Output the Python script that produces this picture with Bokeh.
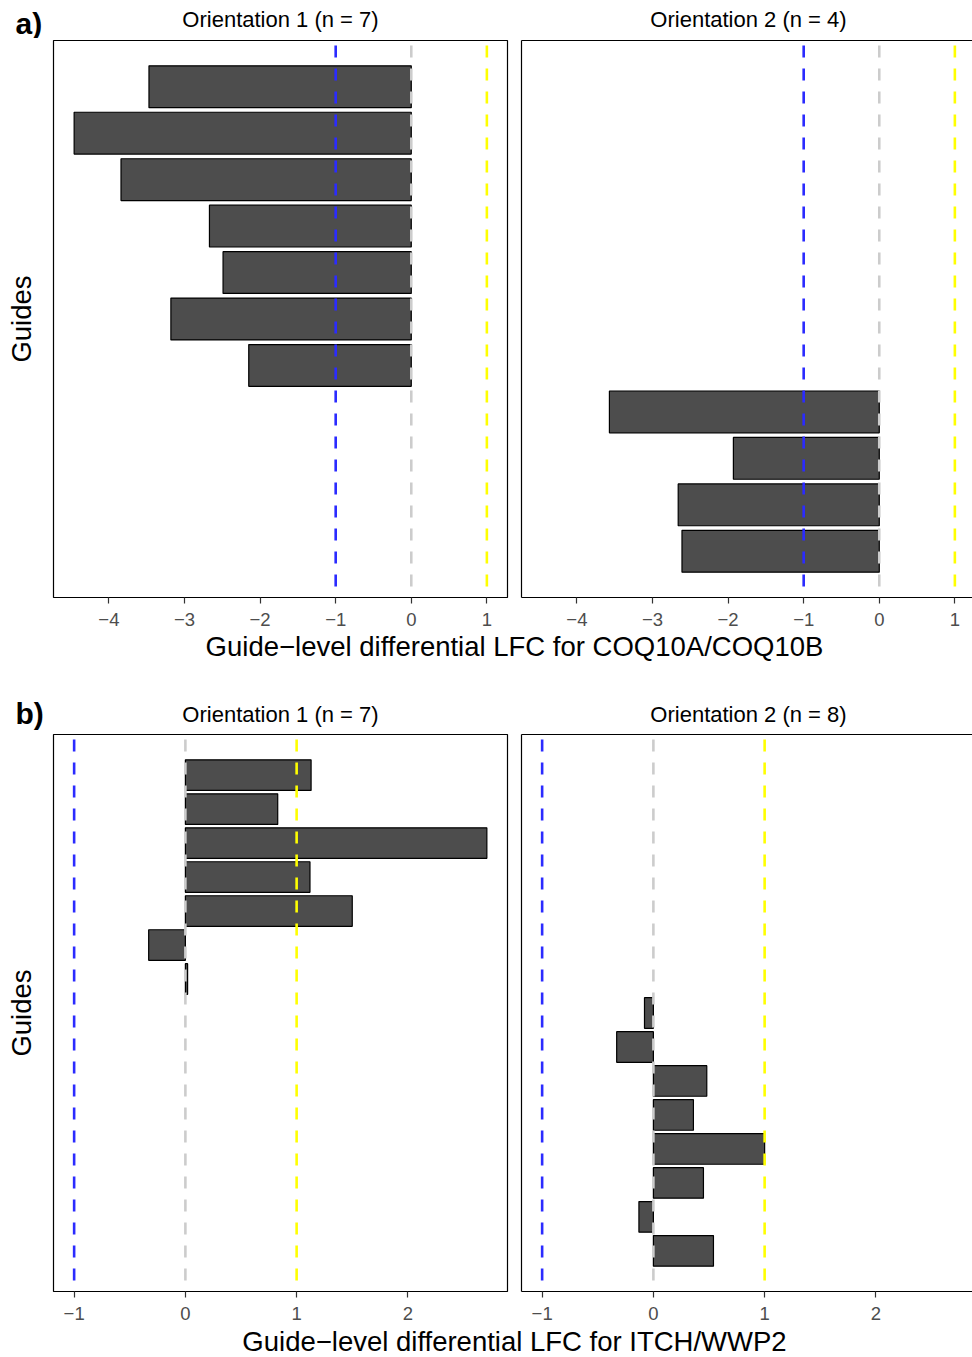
from bokeh.plotting import figure
from bokeh.layouts import column, row
from bokeh.models import Range1d, Span, FixedTicker, LinearAxis, ColumnDataSource
from bokeh.core.properties import value
from bokeh.embed import file_html
from bokeh.resources import INLINE

FONT = "Liberation Sans"

# ---------------- data ----------------
a_o1 = [-3.47, -4.46, -3.84, -2.67, -2.49, -3.18, -2.15]
a_o2 = [-3.57, -1.93, -2.66, -2.61]
b_o1 = [1.13, 0.83, 2.71, 1.12, 1.50, -0.33, 0.02]
b_o2 = [-0.08, -0.33, 0.48, 0.36, 1.00, 0.45, -0.13, 0.54]
a_ticks = [-4, -3, -2, -1, 0, 1]
b_ticks = [-1, 0, 1, 2]
a_strips = ["Orientation 1 (n = 7)", "Orientation 2 (n = 4)"]
b_strips = ["Orientation 1 (n = 7)", "Orientation 2 (n = 8)"]
a_xlabel = "Guide\u2212level differential LFC for COQ10A/COQ10B"
b_xlabel = "Guide\u2212level differential LFC for ITCH/WWP2"
ylabel = "Guides"
panel_tags = ["a)", "b)"]
ref_lines = [-1, 0, 1]
ref_colors = ["#2B2BFF", "#CCCCCC", "#FFFF00"]

# ---------------- layout constants ----------------
TOTAL_W = 972
FRAME_W = 454
FRAME_H = 557
LEFT_B = 53
GAP = 7
TOP_B = 2
BOT_B = 35
LEFT_FIG_W = LEFT_B + FRAME_W + GAP
RIGHT_FIG_W = TOTAL_W - LEFT_FIG_W
RIGHT_FRAME_W = RIGHT_FIG_W - GAP
BAR_FILL = "#4D4D4D"

STRIP_SIZE = 22
TITLE_SIZE = 27.5
TAG_SIZE = 30


def minus(v):
    return str(v).replace("-", "\u2212")


def base_y(baseline, size):
    # bokeh draws alphabetic text a bit lower than y; compensate
    return baseline - 0.35 * size


def x_limits(values):
    lo = min(values + ref_lines)
    hi = max(values + ref_lines)
    pad = 0.05 * (hi - lo)
    return lo - pad, hi + pad


def style_xaxis(ax, ticks, line):
    ax.ticker = FixedTicker(ticks=ticks)
    ax.major_label_overrides = {t: minus(t) for t in ticks}
    ax.minor_tick_line_color = None
    ax.major_tick_out = 6
    ax.major_tick_in = 0
    ax.major_tick_line_color = "#333333"
    ax.major_tick_line_width = 1.2
    ax.major_label_text_font = FONT
    ax.major_label_text_font_size = "18.5px"
    ax.major_label_text_color = "#4D4D4D"
    ax.major_label_standoff = 9
    ax.axis_line_color = "black" if line else None
    ax.axis_line_width = 1.2


def bare_axis(ax):
    ax.ticker = FixedTicker(ticks=[])
    ax.major_tick_out = 0
    ax.major_tick_in = 0
    ax.minor_tick_out = 0
    ax.minor_tick_in = 0
    ax.major_label_standoff = 0
    ax.major_tick_line_color = None
    ax.minor_tick_line_color = None


def facet(vals, positions, n_total, xr, is_left, ticks):
    ylo, yhi = 1 - 0.45, n_total + 0.45
    pad = 0.05 * (yhi - ylo)
    if is_left:
        width = LEFT_FIG_W
        x_range = Range1d(xr[0], xr[1])
        mbl, mbr = LEFT_B, GAP
    else:
        width = RIGHT_FIG_W
        x_range = Range1d(xr[0], xr[0] + (xr[1] - xr[0]) * RIGHT_FRAME_W / FRAME_W)
        mbl, mbr = GAP, 0
    p = figure(width=width, height=TOP_B + FRAME_H + BOT_B,
               x_range=x_range, y_range=Range1d(yhi + pad, ylo - pad),
               min_border_left=mbl, min_border_right=mbr,
               min_border_top=TOP_B, min_border_bottom=BOT_B,
               toolbar_location=None, output_backend="svg", title=None)
    p.grid.visible = False
    src = ColumnDataSource(dict(y=positions, v=vals))
    p.hbar(y="y", height=0.9, left=0, right="v", source=src,
           fill_color=BAR_FILL, line_color="black", line_width=1.2)
    for loc, col in zip(ref_lines, ref_colors):
        p.add_layout(Span(location=loc, dimension="height", line_color=col,
                          line_width=2.6, line_dash="12 11", line_dash_offset=18))
    xa = p.xaxis[0]
    ya = p.yaxis[0]
    bare_axis(ya)
    if is_left:
        p.outline_line_color = "black"
        p.outline_line_width = 1.2
        style_xaxis(xa, ticks, False)
        ya.axis_line_color = None
        ya.axis_label = ylabel
        ya.axis_label_text_font = FONT
        ya.axis_label_text_font_size = "%.1fpx" % TITLE_SIZE
        ya.axis_label_text_font_style = "normal"
        ya.axis_label_text_color = "black"
        ya.axis_label_standoff = 17
    else:
        p.outline_line_color = None
        style_xaxis(xa, ticks, True)
        ya.axis_line_color = "black"
        ya.axis_line_width = 1.2
        top = LinearAxis()
        bare_axis(top)
        top.axis_line_color = "black"
        top.axis_line_width = 1.2
        p.add_layout(top, "above")
    return p


def text_strip(h, xs, ys, texts, size, bold=False, align="center"):
    p = figure(width=TOTAL_W, height=h, x_range=Range1d(0, TOTAL_W),
               y_range=Range1d(h, 0), min_border=0, toolbar_location=None,
               output_backend="svg", title=None,
               x_axis_location=None, y_axis_location=None)
    p.grid.visible = False
    p.outline_line_color = None
    src = ColumnDataSource(dict(x=xs, y=ys, t=texts))
    p.text(x="x", y="y", text="t", source=src, text_font=value(FONT),
           text_font_size=value("%.1fpx" % size), text_color="black",
           text_font_style=value("bold" if bold else "normal"),
           text_align=align, text_baseline="alphabetic")
    return p


def header(h, tag, tag_base, strips, strip_base):
    p = text_strip(h, [LEFT_B + FRAME_W / 2, LEFT_FIG_W + GAP + FRAME_W / 2],
                   [base_y(strip_base, STRIP_SIZE)] * 2, strips, STRIP_SIZE)
    src = ColumnDataSource(dict(x=[15], y=[base_y(tag_base, TAG_SIZE)], t=[tag]))
    p.text(x="x", y="y", text="t", source=src, text_font=value(FONT),
           text_font_size=value("%dpx" % TAG_SIZE), text_color="black",
           text_font_style=value("bold"), text_align="left",
           text_baseline="alphabetic")
    return p


xlab_center = (LEFT_B + LEFT_FIG_W + GAP + FRAME_W) / 2

# panel a
xr_a = x_limits(a_o1 + a_o2)
na = len(a_o1) + len(a_o2)
fa1 = facet(a_o1, list(range(1, len(a_o1) + 1)), na, xr_a, True, a_ticks)
fa2 = facet(a_o2, list(range(len(a_o1) + 1, na + 1)), na, xr_a, False, a_ticks)
head_a = header(38, panel_tags[0], 33, a_strips, 27)
foot_a = text_strip(36, [xlab_center], [base_y(24, TITLE_SIZE)], [a_xlabel], TITLE_SIZE)

# panel b
xr_b = x_limits(b_o1 + b_o2)
nb = len(b_o1) + len(b_o2)
fb1 = facet(b_o1, list(range(1, len(b_o1) + 1)), nb, xr_b, True, b_ticks)
fb2 = facet(b_o2, list(range(len(b_o1) + 1, nb + 1)), nb, xr_b, False, b_ticks)
head_b = header(64, panel_tags[1], 55, b_strips, 54)
foot_b = text_strip(31, [xlab_center], [base_y(25, TITLE_SIZE)], [b_xlabel], TITLE_SIZE)

root = column(head_a, row(fa1, fa2), foot_a, head_b, row(fb1, fb2), foot_b)

open("out.html", "w").write(file_html(root, INLINE))
